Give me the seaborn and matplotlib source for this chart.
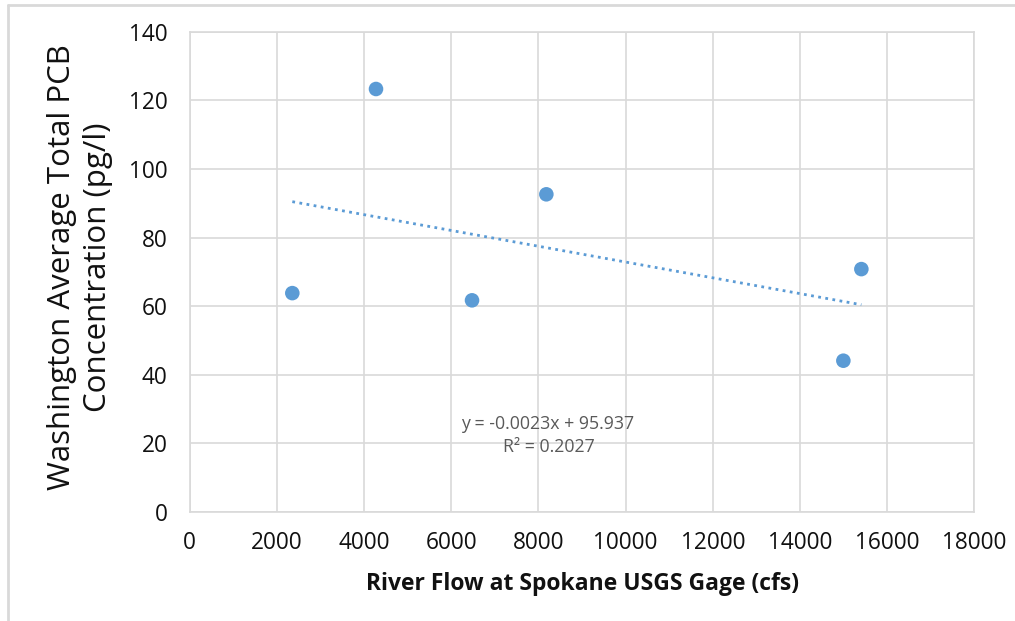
import numpy as np
import pandas as pd
import seaborn as sns
import matplotlib
matplotlib.use("Agg")
import matplotlib.pyplot as plt
from matplotlib.lines import Line2D

# Data
flow_cfs = [2354, 4274, 6477, 8182, 15409, 14996]
pcb_pgl = [63.8, 123.3, 61.7, 92.6, 70.8, 44.1]
x_ticks = [0, 2000, 4000, 6000, 8000, 10000, 12000, 14000, 16000, 18000]
y_ticks = [0, 20, 40, 60, 80, 100, 120, 140]
eq_text = "y = -0.0023x + 95.937"
r2_text = "R² = 0.2027"
x_label = "River Flow at Spokane USGS Gage (cfs)"
y_label = "Washington Average Total PCB\nConcentration (pg/l)"

df = pd.DataFrame({"flow": flow_cfs, "pcb": pcb_pgl})

sns.set_theme(style="white")
plt.rcParams['font.family'] = ['Open Sans', 'DejaVu Sans']

fig = plt.figure(figsize=(10.15, 6.21), dpi=100)
W, H = 1015, 621
ax = fig.add_axes([189.7 / W, 1 - 512 / H, (974.3 - 189.7) / W, (512 - 31.7) / H])

blue = "#5b9bd5"
sns.scatterplot(data=df, x="flow", y="pcb", ax=ax, color=blue, s=110,
                edgecolor="none", zorder=3)

# linear trendline
slope, intercept = np.polyfit(df["flow"], df["pcb"], 1)
xs = np.array([df["flow"].min(), df["flow"].max()])
sns.lineplot(x=xs, y=slope * xs + intercept, ax=ax, color=blue,
             linestyle=(0, (1, 1.6)), linewidth=2.0, zorder=2)

ax.set_xlim(0, 18000)
ax.set_ylim(0, 140)
ax.set_xticks(x_ticks)
ax.set_yticks(y_ticks)
ax.set_xticklabels([str(v) for v in x_ticks], fontsize=16.3, color="#111111")
ax.set_yticklabels([str(v) for v in y_ticks], fontsize=16.3, color="#111111")
ax.tick_params(axis="both", length=0)
ax.tick_params(axis="x", pad=14)
ax.tick_params(axis="y", pad=16)
ax.grid(True, color="#d9d9d9", linewidth=1.2)
ax.set_axisbelow(True)
for s in ax.spines.values():
    s.set_color("#d9d9d9")
    s.set_linewidth(1.2)

ax.set_xlabel(x_label, fontsize=16.5, fontweight="bold", color="#111111", labelpad=12)
ax.set_ylabel(y_label, fontsize=22.5, color="#111111", linespacing=1.25)
ax.yaxis.set_label_coords(-0.098, 0.51)

ax.text(8200, 25.6, eq_text, ha="center", va="center", fontsize=12.8, color="#595959")
ax.text(8250, 18.9, r2_text, ha="center", va="center", fontsize=12.8, color="#595959")

# outer frame of the chart area
fig.add_artist(Line2D([8 / W, 1.0], [1 - 5 / H, 1 - 5 / H], transform=fig.transFigure,
                      color="#d9d9d9", linewidth=2))
fig.add_artist(Line2D([8 / W, 8 / W], [0, 1 - 5 / H], transform=fig.transFigure,
                      color="#d9d9d9", linewidth=2))

fig.savefig("out.png", dpi=100)
